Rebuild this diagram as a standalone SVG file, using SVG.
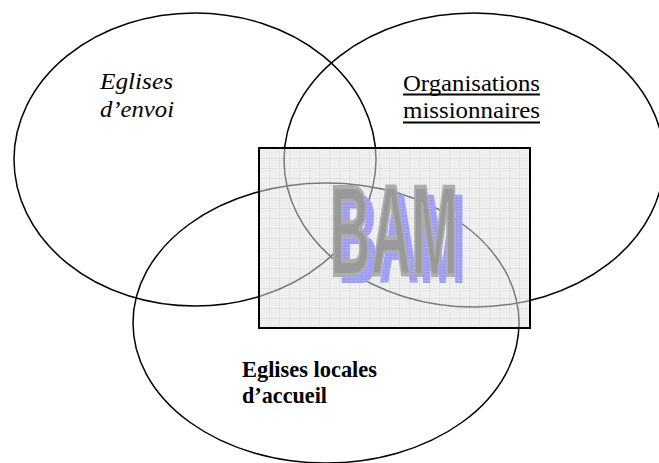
<svg xmlns="http://www.w3.org/2000/svg" width="659" height="463" viewBox="0 0 659 463">
<defs>
<pattern id="grid" width="10" height="10" patternUnits="userSpaceOnUse" x="259" y="148">
<rect width="10" height="10" fill="#ebebeb"/>
<path d="M0 2.5H10M0 5H10M0 7.5H10M2.5 0V10M5 0V10M7.5 0V10" stroke="#dcdcdc" stroke-width="1" fill="none"/>
<path d="M0 0.5H10M0.5 0V10" stroke="#c6c6c6" stroke-width="1" fill="none"/>
</pattern>
<pattern id="bluedots" width="3" height="3" patternUnits="userSpaceOnUse">
<rect width="3" height="3" fill="#9c9cff"/>
<rect width="1" height="1" fill="#c4c4f4"/>
</pattern>
<style>
.ell{fill:none;stroke:#000;stroke-width:1.5}
.bam{font-family:'Liberation Sans',Arial,sans-serif;font-weight:bold;font-size:128px}
.lbl{font-family:'Liberation Serif','Times New Roman',serif;font-size:24px;fill:#000}
</style>
</defs>
<g id="ellipses">
<ellipse id="eglises-envoi" class="ell" cx="195" cy="159.5" rx="181" ry="146.5"/>
<ellipse id="organisations" class="ell" cx="474" cy="160" rx="190" ry="147"/>
<ellipse id="eglises-locales" class="ell" cx="326" cy="323" rx="193" ry="140"/>
</g>
<g id="bam-box">
<rect x="259" y="148" width="271" height="180" fill="url(#grid)" fill-opacity="0.55" stroke="#000" stroke-width="2"/>
<text class="bam" transform="translate(338,283) scale(0.44,1)" fill="url(#bluedots)">BAM</text>
<text class="bam" transform="translate(330,275) scale(0.44,1)" fill="#999" stroke="#adadad" stroke-width="4">BAM</text>
</g>
<g id="label-envoi">
<text class="lbl" font-style="italic" font-size="23" x="100" y="89" textLength="73" lengthAdjust="spacingAndGlyphs">Eglises</text>
<text class="lbl" font-style="italic" font-size="23" x="100" y="117" textLength="74" lengthAdjust="spacingAndGlyphs">d’envoi</text>
</g>
<g id="label-organisations">
<text class="lbl" x="403" y="91" textLength="137" lengthAdjust="spacingAndGlyphs">Organisations</text>
<text class="lbl" x="403" y="118" textLength="137" lengthAdjust="spacingAndGlyphs">missionnaires</text>
<rect x="403" y="93.5" width="137" height="2" fill="#000"/>
<rect x="403" y="121.5" width="137" height="2" fill="#000"/>
</g>
<g id="label-locales">
<text class="lbl" font-weight="bold" font-size="22" x="242" y="377" textLength="135" lengthAdjust="spacingAndGlyphs">Eglises locales</text>
<text class="lbl" font-weight="bold" font-size="22" x="242" y="403" textLength="85" lengthAdjust="spacingAndGlyphs">d’accueil</text>
</g>
</svg>
